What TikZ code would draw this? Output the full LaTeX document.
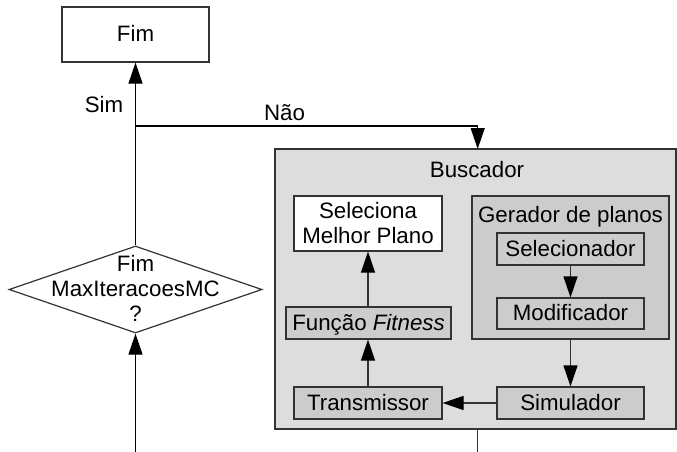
\documentclass[tikz,border=0pt]{standalone}
\usepackage{fontspec}
\setmainfont{Liberation Sans}
\usetikzlibrary{arrows.meta,shapes.geometric}
\definecolor{outerfill}{HTML}{DDDDDD}
\definecolor{innerfill}{HTML}{CCCCCC}
\definecolor{edge}{HTML}{333333}
\tikzset{
  every node/.style={font=\fontsize{22.3}{25}\selectfont},
  arr/.style={-{Triangle[length=21pt,width=14pt,color=black]}, line width=1.2pt},
  boxbase/.style={draw=edge, line width=1.2pt, inner sep=0pt, text height=17pt, text depth=3pt},
  whitebox/.style={boxbase, fill=white},
  greybox/.style={boxbase, fill=innerfill},
}
\begin{document}
\begin{tikzpicture}[x=1pt,y=-1pt]
\useasboundingbox (0,0) rectangle (677,452);
% main column
\node[whitebox, minimum width=147pt, minimum height=55pt] (fim) at (135.5,34.5) {Fim};
\node[diamond, draw=edge, line width=1.2pt, fill=white, minimum width=253pt, minimum height=87pt, inner sep=0pt] (dec) at (135.5,289.5) {};
\node[align=center, inner sep=0pt, text height=67pt, text depth=3pt] (dectext) at (135.5,289.5) {Fim\\MaxIteracoesMC\\?};
% Buscador
\node[draw=edge, fill=outerfill, line width=1.2pt, minimum width=401pt, minimum height=280pt, inner sep=0pt] (busc) at (475.5,289) {};
\node[anchor=base, inner sep=0pt] (busctitle) at (477,177) {Buscador};
\node[greybox, minimum width=197pt, minimum height=143pt, text height=0pt, text depth=0pt] (ger) at (570.5,267.5) {};
\node[anchor=base, inner sep=0pt] (gertitle) at (570.5,222) {Gerador de planos};
\node[greybox, minimum width=147pt, minimum height=32pt] (sel) at (570.5,249) {Selecionador};
\node[greybox, minimum width=147pt, minimum height=31pt] (mod) at (570.5,313.5) {Modificador};
\node[greybox, minimum width=147pt, minimum height=32pt] (sim) at (570.5,403) {Simulador};
\node[greybox, minimum width=148pt, minimum height=32pt] (tra) at (368,403) {Transmissor};
\node[greybox, minimum width=165pt, minimum height=32pt] (fun) at (368.5,323) {Função \textit{Fitness}};
\node[whitebox, align=center, minimum width=148pt, minimum height=55pt, text height=42pt, text depth=3pt] (best) at (368,223.5) {Seleciona\\Melhor Plano};
% coordinates
\coordinate (split) at (135.5,126);
\coordinate (bin) at (477.7,149);
\coordinate (bout) at (477.7,452);
\coordinate (start) at (135.5,452);
% connectors
\draw[arr] (dec.north) -- (fim.south);
\draw[arr] (split) -| (bin);
\draw[arr] (start) -- (dec.south);
\draw[line width=1.2pt, draw=edge] (busc.south -| bout) -- (bout);
\draw[arr, draw=edge] (sel.south) -- (mod.north);
\draw[arr, draw=edge] (ger.south) -- (sim.north);
\draw[arr, draw=edge] (sim.west) -- (tra.east);
\draw[arr, draw=edge] (tra.north) -- (tra.north |- fun.south);
\draw[arr, draw=edge] (fun.north -| best.south) -- (best.south);
% labels
\node[anchor=base, inner sep=0pt] (sim-l) at (104,112) {Sim};
\node[anchor=base, inner sep=0pt] (nao-l) at (284.5,120) {Não};
\end{tikzpicture}
\end{document}
